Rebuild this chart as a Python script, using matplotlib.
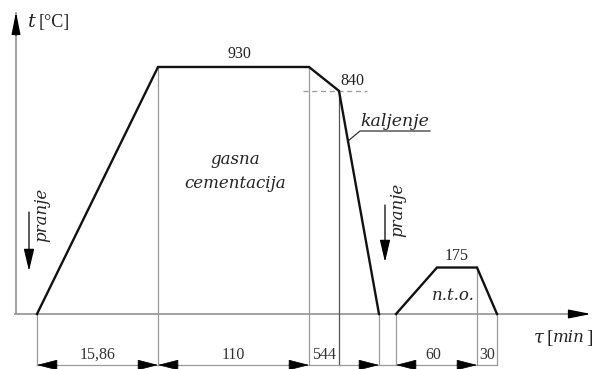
import matplotlib.pyplot as plt
import numpy as np

# process data
temps = [0, 930, 930, 840, 0]          # main cycle, degC
temps_nto = [0, 175, 175, 0]           # tempering, degC
seg_labels = ['15,86', '110', '544', '60', '30']
t_hold, t_low, t_nto = 930, 840, 175

# schematic layout (diagram is not to scale)
x0 = 37
main_w = [121, 151, 30, 40]
gap_w = 17
nto_w = [41, 40, 20]
xm = x0 + np.concatenate([[0], np.cumsum(main_w)])
xn = xm[-1] + gap_w + np.concatenate([[0], np.cumsum(nto_w)])

k = 0.2656  # px per degC
ybot = -55 / k
ytop = 314 / k
ydim = -192

plt.rcParams['font.family'] = ['Liberation Serif', 'DejaVu Serif']
ital = dict(family='DejaVu Serif', style='italic', color='#222222')

fig = plt.figure(figsize=(5.97, 3.69), dpi=100)
ax = fig.add_axes([0, 0, 1, 1])
ax.set_xlim(0, 597)
ax.set_ylim(ybot, ytop)
ax.axis('off')

gray = '#9a9a9a'
# axes
ax.plot([16, 16], [0, ytop - 50], color=gray, lw=1.3, zorder=1)
ax.plot([15, 575], [0, 0], color=gray, lw=1.3, zorder=1)
ax.annotate('', xy=(16, (314 - 12) / k), xytext=(16, (314 - 35) / k),
            arrowprops=dict(arrowstyle='-|>,head_length=0.85,head_width=0.17',
                            color='black', shrinkA=0, shrinkB=0, mutation_scale=16))
ax.annotate('', xy=(591, 0), xytext=(570, 0),
            arrowprops=dict(arrowstyle='-|>,head_length=0.85,head_width=0.17',
                            color='black', shrinkA=0, shrinkB=0, mutation_scale=16))

# curves
ax.plot(xm, temps, color='#111111', lw=1.7, zorder=3, solid_joinstyle='miter')
ax.plot(xn, temps_nto, color='#111111', lw=1.7, zorder=3, solid_joinstyle='miter')

# extension lines
ext = [(xm[0], 0), (xm[1], t_hold), (xm[2], t_hold), (xm[3], t_low), (xm[4], 0),
       (xn[0], 0), (xn[2], t_nto), (xn[3], 0)]
for xe, ye in ext:
    c = '#555555' if xe == xm[3] else gray
    ax.plot([xe, xe], [ydim, ye], color=c, lw=0.9, zorder=2)

# dimension line
ax.plot([xm[0], xn[3]], [ydim, ydim], color=gray, lw=0.9, zorder=2)
astyle = '-|>,head_length=0.7,head_width=0.18'
def dim_arrow(tip, tail):
    ax.annotate('', xy=(tip, ydim), xytext=(tail, ydim),
                arrowprops=dict(arrowstyle=astyle, color='black', lw=0.5,
                                shrinkA=0, shrinkB=0, mutation_scale=19))
dim_arrow(xm[0], xm[0] + 20)
dim_arrow(xm[1], xm[1] - 20)
dim_arrow(xm[1], xm[1] + 20)
dim_arrow(xm[2], xm[2] - 20)
dim_arrow(xm[4], xm[4] - 20)
dim_arrow(xn[0], xn[0] + 20)
dim_arrow(xn[2], xn[2] - 20)

dim_mid = [(xm[0] + xm[1]) / 2, (xm[1] + xm[2]) / 2, (xm[2] + xm[3]) / 2,
           (xn[0] + xn[2]) / 2 - 3, (xn[2] + xn[3]) / 2]
for xl, lab in zip(dim_mid, seg_labels):
    ax.text(xl, ydim + 8, lab, ha='center', va='bottom', fontsize=11.5, color='#333333')

# temperature labels
ax.text((xm[1] + xm[2]) / 2 + 6, t_hold + 18, str(t_hold), ha='center', va='bottom',
        fontsize=11.5, color='#222222')
ax.text(xm[3] + 13, t_low + 6, str(t_low), ha='center', va='bottom',
        fontsize=11.5, color='#222222')
ax.plot([xm[3] - 36, xm[3] + 28], [t_low, t_low], color=gray, lw=0.9, ls=(0, (4, 3)), zorder=2)
ax.text((xn[1] + xn[2]) / 2, t_nto + 12, str(t_nto), ha='center', va='bottom',
        fontsize=11.5, color='#222222')

# annotations
ax.text(235, (314 - 160) / k, 'gasna', ha='center', va='center', fontsize=12, **ital)
ax.text(235, (314 - 183) / k, 'cementacija', ha='center', va='center', fontsize=12, **ital)
ax.text(xm[3] + 56, (314 - 131) / k + 4, 'kaljenje', ha='center', va='bottom',
        fontsize=12.5, **ital)
ax.plot([xm[3] + 9, xm[3] + 21, xm[3] + 91],
        [(314 - 141) / k, (314 - 131) / k, (314 - 131) / k], color='#333333', lw=0.9)
ax.text(453, (314 - 296) / k, 'n.t.o.', ha='center', va='center', fontsize=12, **ital)

for xt, yt, xa, ya0, ya1 in [(42, 215, 29, 212, 271), (398, 210, 385, 205, 262)]:
    ax.text(xt, (314 - yt) / k, 'pranje', rotation=90, ha='center', va='center',
            fontsize=12, **ital)
    ax.annotate('', xy=(xa, (314 - ya1) / k), xytext=(xa, (314 - ya0) / k),
                arrowprops=dict(arrowstyle='-|>,head_length=0.85,head_width=0.2',
                                color='black', lw=0.9, shrinkA=0, shrinkB=0,
                                mutation_scale=16))

ax.text(28, (314 - 22) / k, 't', ha='left', va='center', fontsize=14, **ital)
ax.text(39, (314 - 22) / k, '[°C]', ha='left', va='center', fontsize=13, color='#222222')
ax.text(534, (314 - 338) / k, 'τ', ha='left', va='center', fontsize=13, **ital)
ax.text(546, (314 - 338) / k, '[', ha='left', va='center', fontsize=14, color='#222222')
ax.text(553, (314 - 338) / k, 'min', ha='left', va='center', fontsize=12, **ital)
ax.text(586, (314 - 338) / k, ']', ha='left', va='center', fontsize=14, color='#222222')

fig.savefig('out.png', dpi=100)
